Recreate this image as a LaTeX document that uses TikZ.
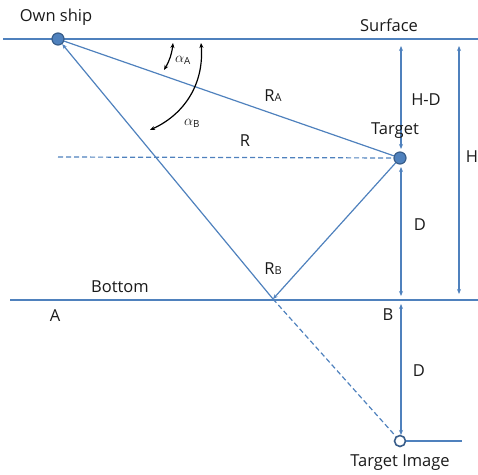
\documentclass[tikz,border=0pt]{standalone}
\usepackage{fontspec}
\setmainfont{Open Sans}
\usetikzlibrary{arrows.meta}
\definecolor{lineblue}{HTML}{4F81BD}
\definecolor{dotborder}{HTML}{385D8A}
\definecolor{txt}{HTML}{1A1A1A}
\begin{document}
\begin{tikzpicture}[x=1pt,y=-1pt,
  ln/.style={draw=lineblue,line width=1.2pt},
  dsh/.style={draw=lineblue,line width=1.2pt,dash pattern=on 5pt off 3pt},
  arr/.style={-{Stealth[length=5pt,width=4pt]}},
  dim/.style={ln,{Stealth[length=5pt,width=4pt]}-{Stealth[length=5pt,width=4pt]}},
  angarr/.style={draw=black,line width=1.2pt,{Stealth[length=5pt,width=4pt]}-{Stealth[length=5pt,width=4pt]}},
  lbl/.style={text=txt,font=\fontsize{16.5}{19}\selectfont,inner sep=0pt},
  dot/.style={circle,fill=lineblue,draw=dotborder,line width=1.2pt,minimum size=12pt,inner sep=0pt},
  hdot/.style={circle,fill=white,draw=dotborder,line width=1.6pt,minimum size=11pt,inner sep=0pt}]
\useasboundingbox (0,0) rectangle (478,474);
% surface and bottom
\coordinate (sL) at (3,39);
\coordinate (sR) at (478,39);
\coordinate (bL) at (10,300);
\coordinate (bR) at (478,300);
\draw[ln] (sL) -- (sR);
\draw[ln] (bL) -- (bR);
% points
\node[dot] (ship) at (58,39) {};
\node[dot] (target) at (400,158) {};
\node[hdot] (image) at (400,441) {};
\coordinate (bounce) at (273,299);
\coordinate (rstart) at (58,157);
\coordinate (imgR) at (462,441);
% rays
\draw[ln] (target) -- (ship);
\draw[ln,arr] (target) -- (bounce);
\draw[ln,arr] (bounce) -- (ship);
\draw[dsh] (rstart) -- (target);
\draw[dsh] (bounce) -- (image);
\draw[ln] (image) -- (imgR);
% dimension arrows
\coordinate (hd1) at (401,46);
\coordinate (hd2) at (401,149);
\coordinate (d1) at (401,167);
\coordinate (d2) at (401,296);
\coordinate (d3) at (401,304);
\coordinate (d4) at (401,435);
\coordinate (h1) at (459,46);
\coordinate (h2) at (459,294);
\draw[dim] (hd1) -- (hd2);
\draw[dim] (d1) -- (d2);
\draw[dim] (d3) -- (d4);
\draw[dim] (h1) -- (h2);
% angle arcs
\coordinate (aA1) at (173,43);
\coordinate (aA2) at (164,70);
\coordinate (aB1) at (201,43);
\coordinate (aB2) at (150,130);
\draw[angarr] (aA1) to[bend left=12] (aA2);
\draw[angarr] (aB1) to[bend left=35] (aB2);
% labels
\node[lbl] (lship) at (56,17) {Own ship};
\node[lbl] (lsurf) at (389,25) {Surface};
\node[lbl] (lhd) at (426,100) {H-D};
\node[lbl] (ltarget) at (395,131) {Target};
\node[lbl] (lh) at (472,157) {H};
\node[lbl] (lra) at (273,96) {R{\fontsize{11}{12}\selectfont A}};
\node[lbl] (lr) at (245,141) {R};
\node[lbl] (lrb) at (273,269) {R{\fontsize{11}{12}\selectfont B}};
\node[lbl] (ldu) at (420,225) {D};
\node[lbl] (lbot) at (120,287) {Bottom};
\node[lbl] (la) at (55,316) {A};
\node[lbl] (lb) at (388,315) {B};
\node[lbl] (ldl) at (419,371) {D};
\node[lbl] (limg) at (400,463) {Target Image};
\node[text=txt,inner sep=0pt] (lalA) at (183,60) {\fontsize{14}{16}\selectfont$\alpha_{\mathrm{A}}$};
\node[text=txt,inner sep=0pt] (lalB) at (192,123) {\fontsize{14}{16}\selectfont$\alpha_{\mathrm{B}}$};
\end{tikzpicture}
\end{document}
